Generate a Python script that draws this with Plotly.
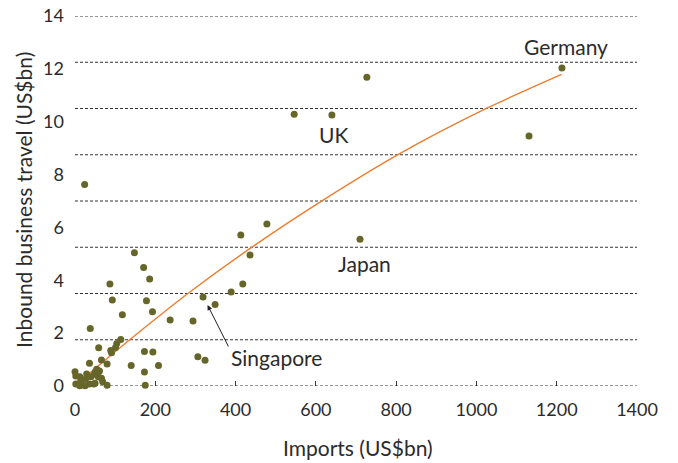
import plotly.graph_objects as go

# Imports vs inbound business travel, US$bn, one dot per country
imports = [
    1213, 1131, 727, 640, 546, 710, 478, 413, 436, 418, 389, 349, 319, 294, 237,
    306, 324, 24,
    148, 171, 186, 87, 93, 178, 193, 118,
    38, 114, 104, 101, 89, 91, 59, 173, 194, 66, 80, 36, 140, 208, 173, 175,
    0, 2, 12, 26, 29, 40, 48, 51, 54, 61, 58, 66, 69, 80, 47, 36, 25, 12, 2, 14, 50,
]
travel = [
    12.03, 9.46, 11.68, 10.25, 10.28, 5.55, 6.13, 5.71, 4.96, 3.86, 3.56, 3.08, 3.37, 2.46, 2.50,
    1.11, 0.97, 7.62,
    5.04, 4.48, 4.05, 3.86, 3.25, 3.23, 2.81, 2.70,
    2.18, 1.76, 1.61, 1.46, 1.34, 1.26, 1.45, 1.31, 1.29, 0.98, 0.83, 0.86, 0.78, 0.78, 0.53, 0.03,
    0.54, 0.38, 0.35, 0.26, 0.45, 0.35, 0.44, 0.54, 0.63, 0.57, 0.35, 0.29, 0.16, 0.03, 0.08, 0.08, 0.01, 0.01, 0.08, 0.16, 0.10,
]

# Trend line through the cloud
trend_x = [4, 150, 282, 448, 623, 810, 1026, 1212]
trend_y = [0.08, 1.92, 3.51, 5.33, 7.08, 8.80, 10.51, 11.79]

x_ticks = [0, 200, 400, 600, 800, 1000, 1200, 1400]
y_ticks = [0, 2, 4, 6, 8, 10, 12, 14]
grid_levels = [0, 1.75, 3.5, 5.25, 7, 8.75, 10.5, 12.25, 14]

FONT = "Lato, 'Open Sans', sans-serif"
TEXT = "#2b2b2b"

fig = go.Figure()

fig.add_trace(go.Scatter(
    x=trend_x, y=trend_y, mode="lines",
    line=dict(color="#ee7d2e", width=1.4, shape="spline", smoothing=0.8),
    hoverinfo="skip", showlegend=False,
))
fig.add_trace(go.Scatter(
    x=imports, y=travel, mode="markers",
    marker=dict(color="#66662a", size=7, line=dict(width=0)),
    cliponaxis=False, showlegend=False,
))

shapes = [
    dict(type="line", xref="x", yref="y", x0=0, x1=1400, y0=g, y1=g,
         line=dict(color="#333333", width=1, dash="3px,2px"), layer="below")
    for g in grid_levels
]

annotations = [
    dict(x=1223, y=12.83, text="Germany", showarrow=False),
    dict(x=645, y=9.50, text="UK", showarrow=False),
    dict(x=720, y=4.65, text="Japan", showarrow=False),
    dict(x=503, y=1.06, text="Singapore", showarrow=False),
    dict(x=328, y=3.13, ax=384, ay=1.44, axref="x", ayref="y", text="",
         showarrow=True, arrowhead=2, arrowsize=1, arrowwidth=1, arrowcolor="#231f20",
         standoff=2),
]
for a in annotations:
    a.setdefault("xref", "x")
    a.setdefault("yref", "y")
    a["font"] = dict(family=FONT, size=21, color=TEXT)

# Axis titles
annotations += [
    dict(xref="paper", yref="paper", x=0.5036, y=-0.165, text="Imports (US$bn)",
         showarrow=False, xanchor="center", yanchor="middle",
         font=dict(family=FONT, size=21, color=TEXT)),
    dict(xref="paper", yref="paper", x=-0.0907, y=0.503,
         text="Inbound business travel (US$bn)", textangle=-90,
         showarrow=False, xanchor="center", yanchor="middle",
         font=dict(family=FONT, size=21, color=TEXT)),
]

fig.update_layout(
    width=678, height=463,
    margin=dict(l=75, r=41, t=16, b=77, autoexpand=False),
    paper_bgcolor="white", plot_bgcolor="white",
    font=dict(family=FONT, size=18, color=TEXT),
    shapes=shapes, annotations=annotations,
    xaxis=dict(
        range=[0, 1400], tickvals=x_ticks, ticktext=[str(v) for v in x_ticks],
        showgrid=False, zeroline=False, showline=False, automargin=False,
        ticks="inside", ticklen=5, tickcolor="#333333", tickwidth=1,
        ticklabelstandoff=11,
    ),
    yaxis=dict(
        range=[0, 14], tickvals=y_ticks, ticktext=[str(v) for v in y_ticks],
        showgrid=False, zeroline=False, showline=False, ticks="", automargin=False,
        ticklabelstandoff=10,
    ),
)

fig.write_html("out.html")
